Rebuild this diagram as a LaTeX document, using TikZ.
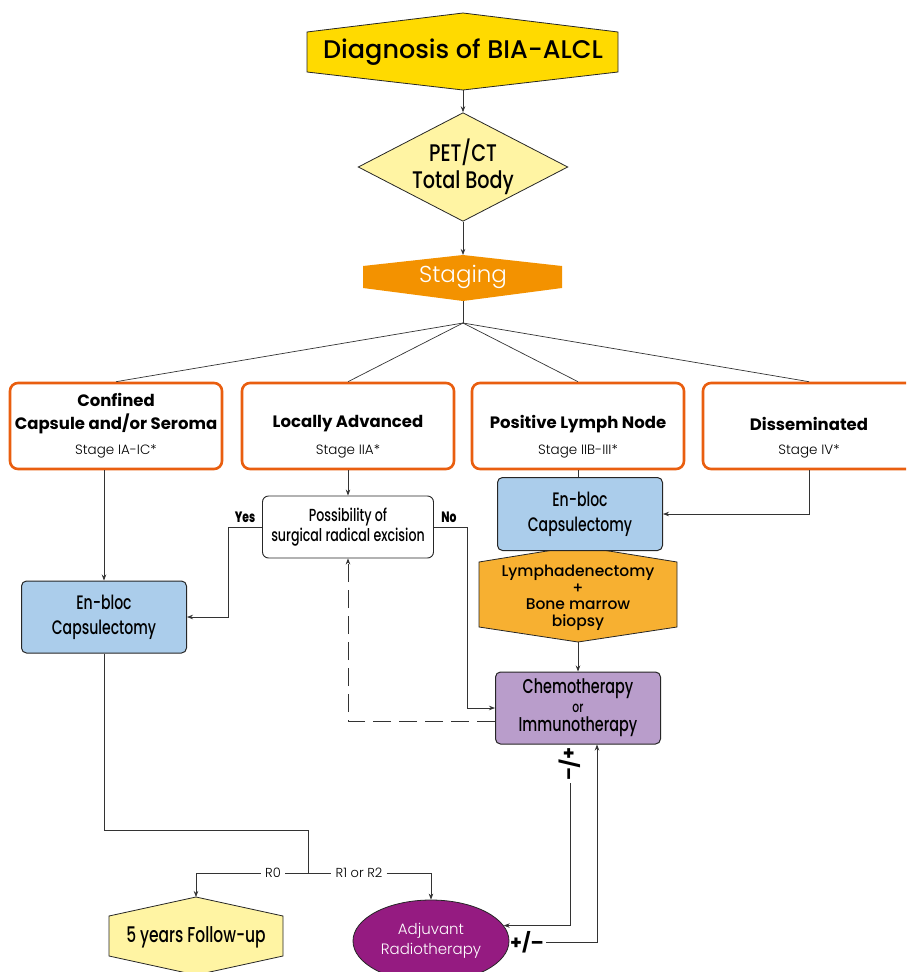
\documentclass[tikz,border=0pt]{standalone}
\usepackage{fontspec}
\setmainfont{Poppins}
\newfontfamily\medfont{Poppins Medium}
\newfontfamily\lightfont{Poppins Light}
\newfontfamily\condfont[FakeStretch=0.72]{Poppins Medium}
\newfontfamily\petfont[FakeStretch=0.8]{Poppins Medium}
\usetikzlibrary{shapes.geometric, arrows.meta, positioning}

\definecolor{diaggold}{HTML}{FFDA00}
\definecolor{paleyellow}{HTML}{FFF4A3}
\definecolor{stagingorange}{HTML}{F39200}
\definecolor{stageedge}{HTML}{E95E0F}
\definecolor{capsblue}{HTML}{ABCDEB}
\definecolor{lymphorange}{HTML}{F7B031}
\definecolor{chemopurple}{HTML}{B99DCB}
\definecolor{radiopurple}{HTML}{951B81}

\tikzset{
  conn/.style={draw=black!80, line width=0.7pt},
  arr/.style={conn, -{Stealth[length=6pt,width=4.5pt]}},
  dasharr/.style={arr, dash pattern=on 18pt off 8pt},
  polyshape/.style={draw=black!85, line width=0.8pt},
  stagebox/.style={draw=stageedge, line width=2.6pt, rounded corners=8pt, fill=white,
    minimum width=212pt, minimum height=86pt},
  treatbox/.style={draw=black!85, line width=1pt, rounded corners=5pt, minimum width=165pt,
    minimum height=72pt, align=center, font=\condfont\fontsize{19.5}{25}\selectfont},
  boldtxt/.style={font=\bfseries\fontsize{16.5}{18}\selectfont},
  stagetxt/.style={font=\lightfont\fontsize{13.5}{16}\selectfont},
  steplabel/.style={font=\lightfont\fontsize{13}{16}\selectfont, fill=white, inner sep=4pt},
  pmlabel/.style={font=\bfseries\fontsize{19}{20}\selectfont, inner sep=2pt},
}

\begin{document}
\begin{tikzpicture}[x=1pt, y=-1pt]
  \clip (0,0) rectangle (906,972);

  % diagnosis and imaging
  \draw[polyshape, fill=diaggold] (307,32) -- (463,13) -- (618,32) -- (618,72) -- (463,90) -- (307,72) -- cycle;
  \node (diag) at (463,52) {\medfont\fontsize{25.5}{28}\selectfont Diagnosis of BIA-ALCL};
  \coordinate (diagS) at (463,90);

  \node[diamond, draw=black!85, line width=0.8pt, fill=paleyellow, aspect=1.93, minimum width=209pt,
    minimum height=108pt, inner sep=0pt, align=center, font=\petfont\fontsize{24}{27}\selectfont]
    (pet) at (463,167) {PET/CT\\Total Body};

  \draw[fill=stagingorange, draw=none] (363,266) -- (463,255) -- (562,266) -- (562,288) -- (463,301) -- (363,288) -- cycle;
  \node[text=white] (stag) at (463,277) {\lightfont\fontsize{23}{26}\selectfont Staging};
  \coordinate (stagN) at (463,255);
  \coordinate (stagS) at (463,301);
  \coordinate (fan) at (463,323);

  \draw[arr] (diagS) -- (pet.north);
  \draw[arr] (pet.south) -- (stagN);

  % stages
  \node[stagebox] (s1) at (116,426) {};
  \node[stagebox] (s2) at (348,426) {};
  \node[stagebox] (s3) at (578,426) {};
  \node[stagebox] (s4) at (809,426) {};

  \node[boldtxt] (t1a) at (116,400) {Confined};
  \node[boldtxt] (t1b) at (116,424) {Capsule and/or Seroma};
  \node[stagetxt] (g1) at (116,451) {Stage IA-IC*};
  \node[boldtxt] (t2) at (348,424) {Locally Advanced};
  \node[stagetxt] (g2) at (348,451) {Stage IIA*};
  \node[boldtxt] (t3) at (578,424) {Positive Lymph Node};
  \node[stagetxt] (g3) at (578,451) {Stage IIB-III*};
  \node[boldtxt] (t4) at (809,424) {Disseminated};
  \node[stagetxt] (g4) at (809,451) {Stage IV*};

  \draw[conn] (stagS) -- (fan);
  \foreach \s in {s1,s2,s3,s4}
    \draw[conn] (fan) -- (\s.north);

  % treatment
  \node[draw=black!85, line width=0.9pt, rounded corners=6pt, fill=white, minimum width=171pt,
    minimum height=62pt, align=center, font=\condfont\fontsize{17.5}{20}\selectfont]
    (poss) at (348,527) {Possibility of\\surgical radical excision};
  \node[font=\condfont\bfseries\fontsize{15}{18}\selectfont] (yes) at (245,517) {Yes};
  \node[font=\condfont\bfseries\fontsize{15}{18}\selectfont] (no) at (449,517) {No};

  \node[treatbox, fill=capsblue] (ebl) at (104,617) {En-bloc\\Capsulectomy};

  \draw[polyshape, fill=lymphorange] (479,562) -- (578,546) -- (677,562) -- (677,627) -- (578,642) -- (479,627) -- cycle;
  \node[align=center, font=\medfont\fontsize{15.5}{16.5}\selectfont, inner sep=0pt] (lymph) at (578,598)
    {Lymphadenectomy\\+\\Bone marrow\\biopsy};
  \coordinate (lymphS) at (578,642);

  \node[treatbox, fill=capsblue, minimum height=73pt] (ebr) at (580,514) {En-bloc\\Capsulectomy};
  \node[treatbox, fill=chemopurple, font=\condfont\fontsize{20}{19}\selectfont] (chemo) at (578,708)
    {Chemotherapy\\{\fontsize{15}{15}\selectfont or}\\Immunotherapy};

  \draw[arr] (s2.south) -- (poss.north);
  \draw[arr] (ebl.north |- s1.south) -- (ebl.north);
  \draw[conn] (s3.south) -- (s3.south |- ebr.north);
  \draw[arr] (s4.south) |- (ebr.east);
  \draw[arr] (poss.west) -- ++(-34,0) |- (ebl.east);
  \draw[arr] (poss.east) -- ++(33,0) |- (chemo.west);
  \draw[arr] (lymphS) -- (chemo.north);
  \draw[dasharr] ([yshift=-13pt]chemo.west) -| (poss.south);

  % margins and radiotherapy
  \coordinate (bend) at (308,830);
  \coordinate (split) at (308,873);
  \node[steplabel] (r0) at (273,873) {R0};
  \node[steplabel] (r12) at (359,873) {R1 or R2};

  \draw[polyshape, fill=paleyellow] (109,916) -- (196,897) -- (283,916) -- (283,956) -- (196,975) -- (109,956) -- cycle;
  \node[font=\condfont\fontsize{21.5}{24}\selectfont] (fol) at (196,937) {5 years Follow-up};
  \coordinate (folN) at (196,897);

  \node[ellipse, draw=black!85, line width=0.8pt, fill=radiopurple, minimum width=156pt, minimum height=82pt,
    align=center, text=white, font=\lightfont\fontsize{15}{20}\selectfont] (rad) at (431,941)
    {Adjuvant\\Radiotherapy};

  \draw[conn] (ebl.south) |- (bend) -- (split);
  \draw[conn] (split) -- (r0);
  \draw[conn] (split) -- (r12);
  \draw[arr] (r0) -| (folN);
  \draw[arr] (r12) -| (rad.north);

  \node[pmlabel, rotate=-90] (pmA) at (570,764) {+/–};
  \node[pmlabel] (pmB) at (527,942) {+/–};
  \draw[arr] (pmA) |- (rad.12);
  \draw[arr] (pmB) -| ([xshift=19pt]chemo.south);
\end{tikzpicture}
\end{document}
